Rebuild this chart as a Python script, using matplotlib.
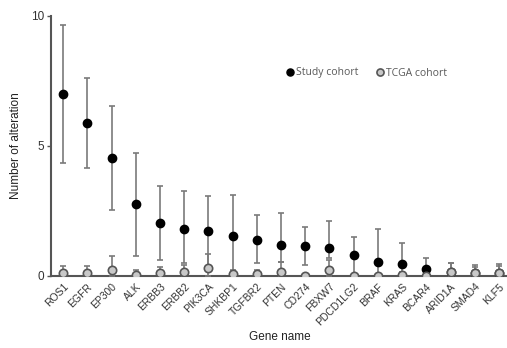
import matplotlib
matplotlib.use("Agg")
import matplotlib.pyplot as plt
import numpy as np

# === DATA ===
genes = ["ROS1", "EGFR", "EP300", "ALK", "ERBB3", "ERBB2", "PIK3CA", "SHKBP1",
         "TGFBR2", "PTEN", "CD274", "FBXW7", "PDCD1LG2", "BRAF", "KRAS",
         "BCAR4", "ARID1A", "SMAD4", "KLF5"]

study_mean = [7.0, 5.9, 4.55, 2.77, 2.03, 1.8, 1.73, 1.53, 1.38, 1.19, 1.15,
              1.08, 0.8, 0.55, 0.46, 0.27, 0.15, 0.1, 0.1]
study_low = [4.35, 4.15, 2.55, 0.78, 0.62, 0.51, 0.4, 0.23, 0.5, 0.54, 0.42,
             0.7, 0.0, 0.0, 0.05, 0.0, 0.0, 0.0, 0.0]
study_high = [9.65, 7.6, 6.55, 4.73, 3.45, 3.27, 3.08, 3.12, 2.35, 2.42, 1.88,
              2.12, 1.51, 1.8, 1.27, 0.68, 0.5, 0.42, 0.46]

tcga_mean = [0.1, 0.1, 0.23, 0.05, 0.1, 0.14, 0.32, 0.08, 0.08, 0.17, 0.0,
             0.22, 0.0, 0.0, 0.05, 0.0, 0.17, 0.1, 0.1]
tcga_high = [0.38, 0.38, 0.78, 0.23, 0.36, 0.43, 0.85, 0.2, 0.25, 0.55, 0.0,
             0.62, 0.0, 0.0, 0.15, 0.0, 0.51, 0.36, 0.4]
# ==============

x = np.arange(len(genes))
study_mean = np.array(study_mean)
tcga_mean = np.array(tcga_mean)
study_err = [study_mean - np.array(study_low), np.array(study_high) - study_mean]
tcga_err = [np.minimum(tcga_mean, np.array(tcga_high) - tcga_mean),
            np.array(tcga_high) - tcga_mean]

fig = plt.figure(figsize=(5.07, 3.48), dpi=100)
ax = fig.add_axes([51 / 507, 1 - 276 / 348, 1 - 51 / 507, 260 / 348])

err_kw = dict(ecolor="#7a7a7a", elinewidth=1.2, capsize=2.5, capthick=1.2)
ax.errorbar(x, study_mean, yerr=study_err, fmt="o", color="black",
            markersize=6, label="Study cohort", zorder=3, **err_kw)
ax.errorbar(x, tcga_mean, yerr=tcga_err, fmt="o", markerfacecolor="#c8c8c8",
            markeredgecolor="#555555", markeredgewidth=1.2, markersize=6,
            label="TCGA cohort", zorder=4, **err_kw)

ax.set_xlim(-0.5, 18.33)
ax.set_ylim(0, 10)
ax.set_yticks([0, 5, 10])
ax.set_xticks(x)
ax.set_xticklabels(genes, rotation=45, ha="right", rotation_mode="anchor",
                   fontsize=7.5, color="#333333", family="Liberation Sans")
for lbl in ax.get_yticklabels():
    lbl.set_fontsize(8.5)
    lbl.set_color("#333333")
    lbl.set_family("Liberation Sans")
ax.tick_params(axis="x", length=0, pad=4)
ax.tick_params(axis="y", length=3, width=1, color="#555555", pad=2)

for side in ["top", "right"]:
    ax.spines[side].set_visible(False)
for side in ["left", "bottom"]:
    ax.spines[side].set_color("#555555")
    ax.spines[side].set_linewidth(1.5)
    ax.spines[side].set_zorder(1)

ax.set_ylabel("Number of alteration", fontsize=8.5, color="#222222",
              family="Liberation Sans", labelpad=6)
fig.text(280 / 507, 1 - 337 / 348, "Gene name", ha="center", va="center",
         fontsize=8.5, color="#222222", family="Liberation Sans")

handles, labels = ax.get_legend_handles_labels()
handles = [h[0] for h in handles]
leg = ax.legend(handles, labels, ncol=2, frameon=False, loc="center",
                bbox_to_anchor=((366 - 51) / 456, (276 - 73) / 260),
                handletextpad=0.1, columnspacing=1.5,
                handlelength=1.0, markerscale=0.85,
                prop={"family": "Open Sans", "size": 7.5})
for t in leg.get_texts():
    t.set_color("#595959")

fig.savefig("out.png", dpi=100)
